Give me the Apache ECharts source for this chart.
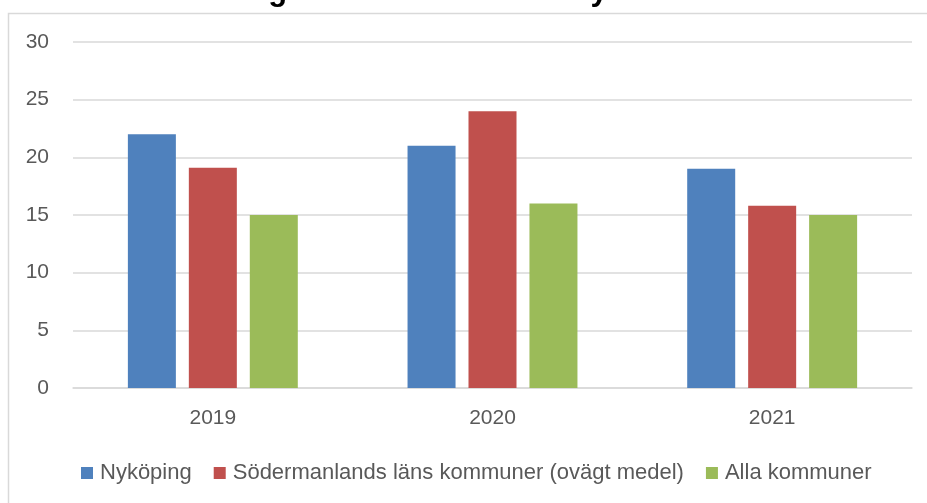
<!DOCTYPE html>
<html>
<head>
<meta charset="utf-8">
<script src="https://cdn.jsdelivr.net/npm/echarts@6/dist/echarts.min.js"></script>
<style>
  html, body { margin: 0; padding: 0; background: #fff; }
  #chart { width: 927px; height: 503px; }
</style>
</head>
<body>
<div id="chart"></div>
<script>
// data
const years = ["2019", "2020", "2021"];
const nykoping = [22, 21, 19];
const sodermanland = [19.1, 24, 15.8];
const allaKommuner = [15, 16, 15];
const seriesNames = ["Nyköping", "Södermanlands läns kommuner (ovägt medel)", "Alla kommuner"];
const titleText = "Väntetid i antal dagar från ansökan till nybesök i medeltal";

const font = "'Liberation Sans', 'Noto Sans', sans-serif";
const colors = ["#4f81bd", "#c0504d", "#9bbb59"];

const myChart = echarts.init(document.getElementById("chart"));

const option = {
  animation: false,
  color: colors,
  graphic: [
    {
      // 外框
      type: "rect",
      shape: { x: 8.5, y: 13.5, width: 940, height: 520 },
      style: { fill: "none", stroke: "#d9d9d9", lineWidth: 1.5 },
      z: 0
    },
    {
      // 标题（上半部分被截掉）
      type: "text",
      x: 3,
      y: 7,
      style: {
        text: titleText,
        font: "bold 31px " + font,
        fill: "#000",
        verticalAlign: "bottom"
      }
    }
  ],
  legend: {
    data: seriesNames,
    left: 76,
    top: 457,
    itemWidth: 12,
    itemHeight: 12,
    itemGap: 22,
    icon: "rect",
    textStyle: { color: "#595959", fontSize: 22, fontFamily: font, padding: [0, 0, 0, 2] }
  },
  grid: {
    left: 73,
    right: 15,
    top: 42,
    bottom: 115,
    containLabel: false
  },
  xAxis: {
    type: "category",
    data: years,
    axisTick: { show: false },
    axisLine: { lineStyle: { color: "#d9d9d9", width: 1.5 } },
    axisLabel: { color: "#595959", fontSize: 21, fontFamily: font, margin: 20 }
  },
  yAxis: {
    type: "value",
    min: 0,
    max: 30,
    interval: 5,
    axisLine: { show: false },
    axisTick: { show: false },
    axisLabel: { color: "#595959", fontSize: 21, fontFamily: font, margin: 24 },
    splitLine: { lineStyle: { color: "#d9d9d9", width: 1.5 } }
  },
  series: [
    { name: seriesNames[0], type: "bar", data: nykoping, barWidth: 48, barGap: "27%" },
    { name: seriesNames[1], type: "bar", data: sodermanland, barWidth: 48, barGap: "27%" },
    { name: seriesNames[2], type: "bar", data: allaKommuner, barWidth: 48, barGap: "27%" }
  ]
};

myChart.setOption(option);
</script>
</body>
</html>
